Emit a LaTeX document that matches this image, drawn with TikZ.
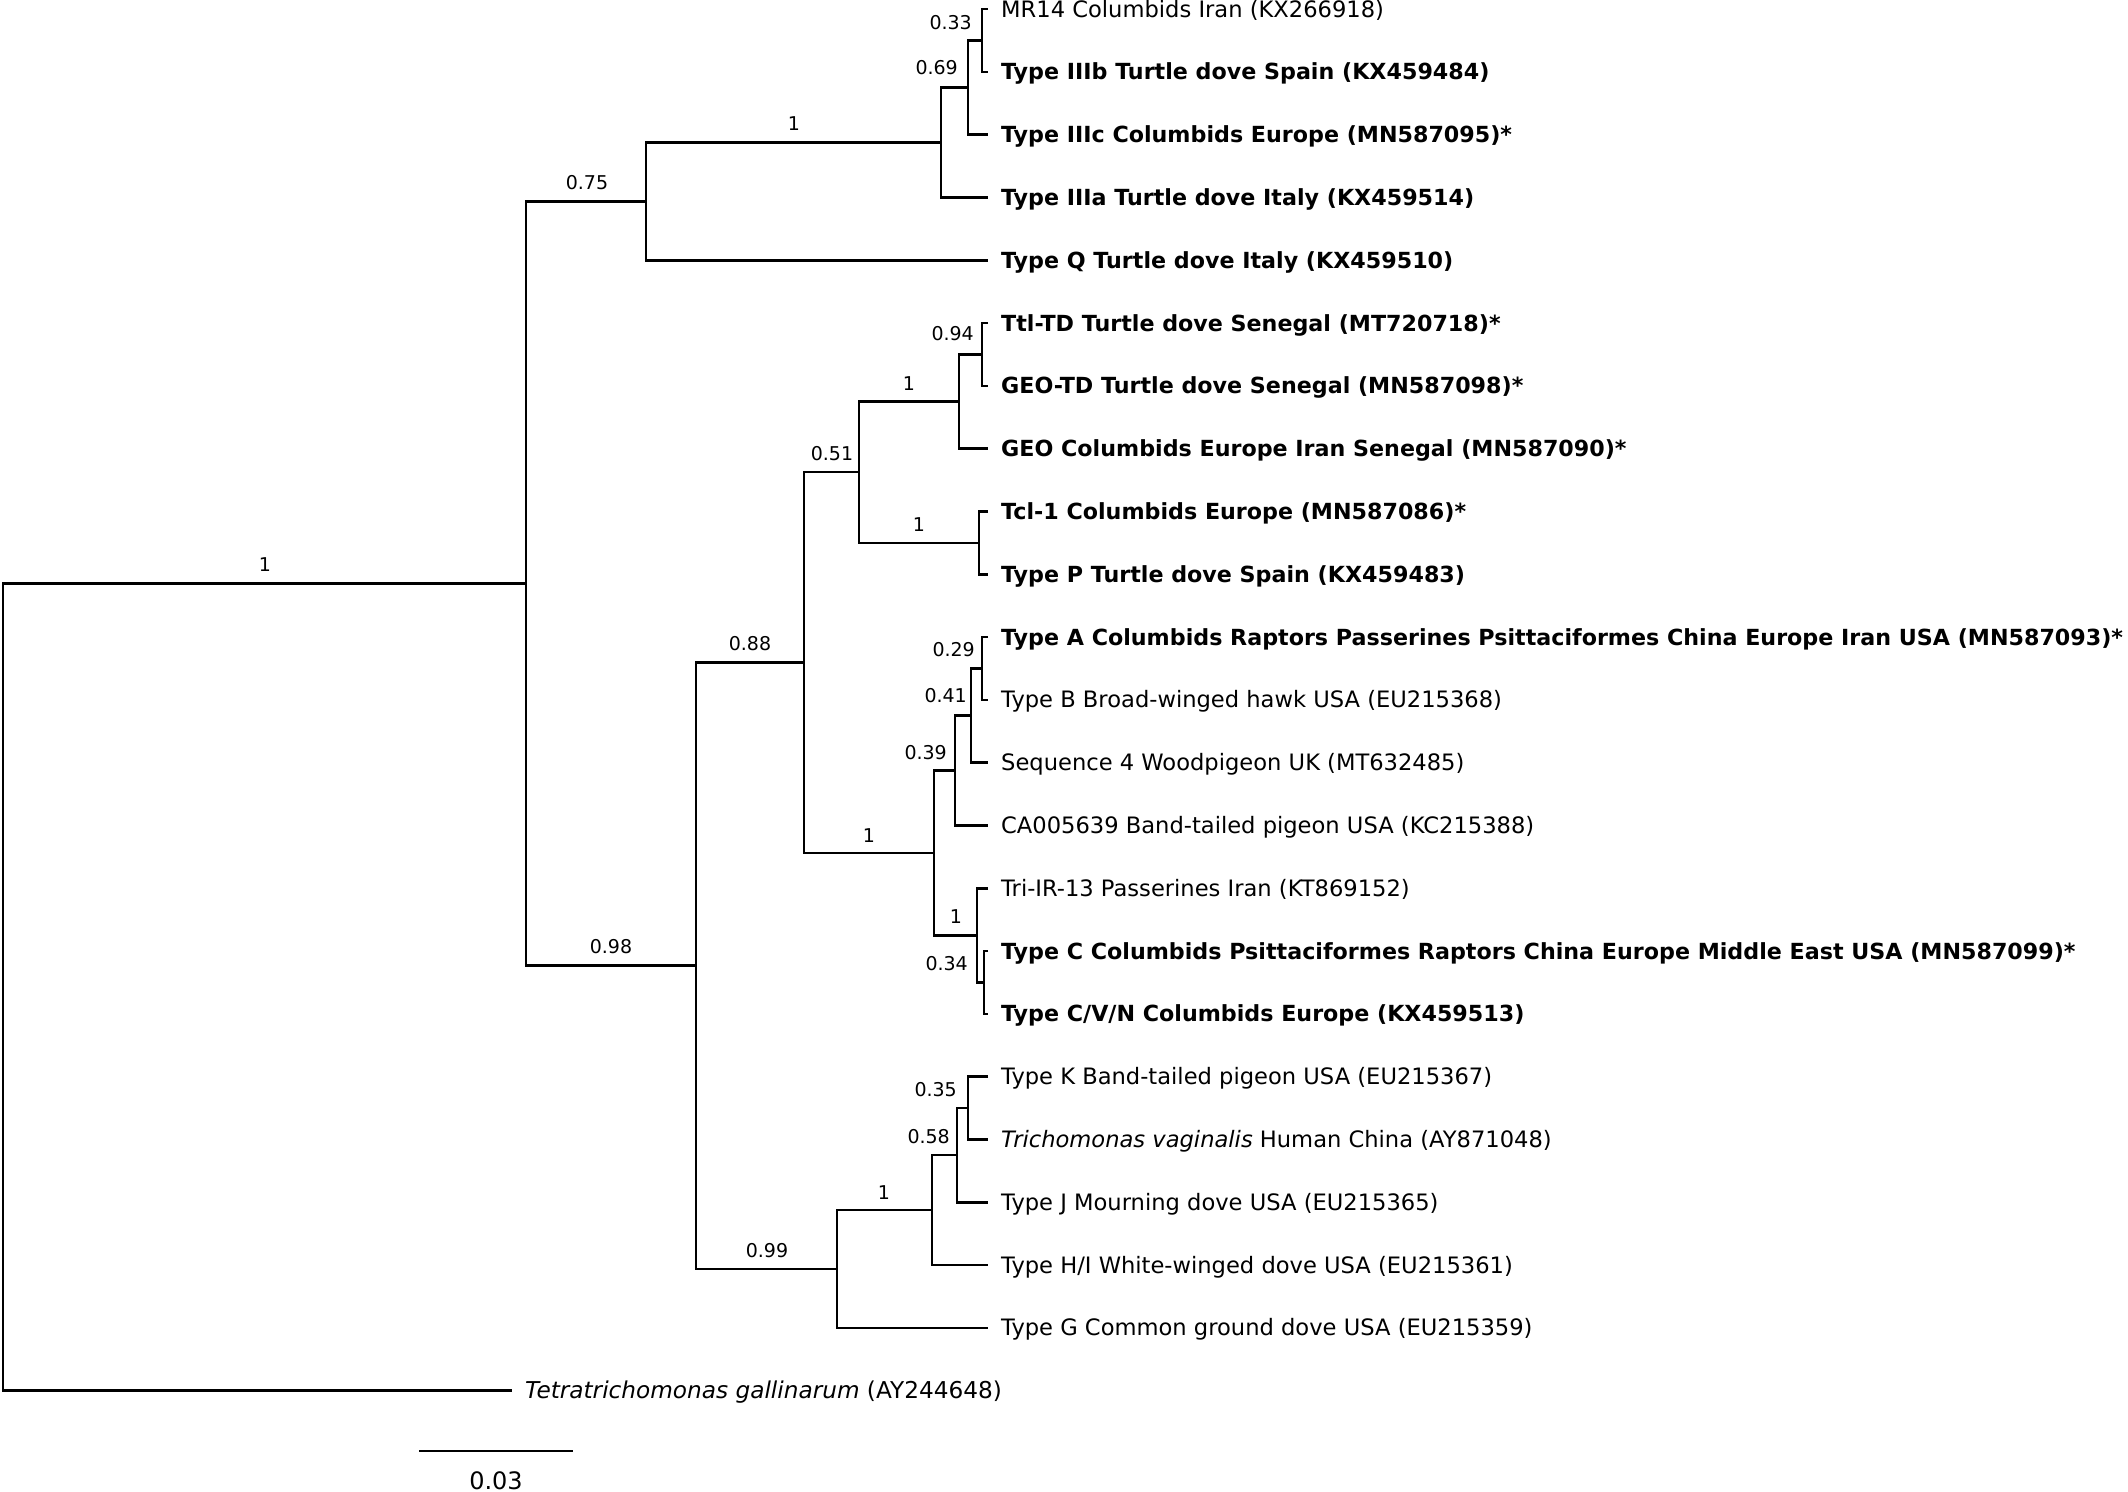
\documentclass[tikz,border=0pt]{standalone}
\usepackage{fontspec}
\setmainfont{DejaVu Sans}
\begin{document}
\begin{tikzpicture}[x=1pt,y=-1pt,
  br/.style={line width=2.6pt},
  leafreg/.style={anchor=base west, inner sep=0pt, xshift=13pt, yshift=-8pt, font=\fontsize{22.6}{26}\selectfont},
  leafbold/.style={leafreg, font=\fontsize{22.2}{26}\selectfont\bfseries},
  supp/.style={inner sep=0pt, font=\fontsize{19}{22}\selectfont},
  suppc/.style={supp, anchor=base},
  suppe/.style={supp, anchor=base east}]
\useasboundingbox (0,0) rectangle (2128,1491);
\fill[white] (0,0) rectangle (2128,1491);
% leaf ends
\coordinate (l1) at (988,9);
\coordinate (l2) at (988,71.8);
\coordinate (l3) at (988,134.6);
\coordinate (l4) at (988,197.4);
\coordinate (l5) at (988,260.2);
\coordinate (l6) at (988,323);
\coordinate (l7) at (988,385.8);
\coordinate (l8) at (988,448.6);
\coordinate (l9) at (988,511.4);
\coordinate (l10) at (988,574.2);
\coordinate (l11) at (988,637);
\coordinate (l12) at (988,699.8);
\coordinate (l13) at (988,762.6);
\coordinate (l14) at (988,825.4);
\coordinate (l15) at (988,888.2);
\coordinate (l16) at (988,951);
\coordinate (l17) at (988,1013.8);
\coordinate (l18) at (988,1076.6);
\coordinate (l19) at (988,1139.4);
\coordinate (l20) at (988,1202.2);
\coordinate (l21) at (988,1265);
\coordinate (l22) at (988,1327.8);
\coordinate (l23) at (512,1390.6);
% internal nodes
\coordinate (root) at (3,987);
\coordinate (nA) at (526,583.5);
\coordinate (nB) at (646,201.3);
\coordinate (nT1) at (941,142.45);
\coordinate (nT2) at (968,87.5);
\coordinate (nT3) at (982,40.4);
\coordinate (nC) at (696,965.7);
\coordinate (nD) at (804,662.5);
\coordinate (nE) at (859,472.15);
\coordinate (nF) at (959,401.5);
\coordinate (nG) at (982,354.4);
\coordinate (nH) at (979,542.8);
\coordinate (nI) at (934,852.9);
\coordinate (nJ) at (955,770.45);
\coordinate (nK) at (971,715.5);
\coordinate (nL) at (982,668.4);
\coordinate (nM) at (977,935.3);
\coordinate (nN) at (984,982.4);
\coordinate (nP) at (837,1268.9);
\coordinate (nQ) at (932,1210.05);
\coordinate (nR) at (957,1155.1);
\coordinate (nS) at (968,1108);
% branches
\draw[br] (l1) -| (nT3) |- (l2);
\draw[br] (nT3) -| (nT2) |- (l3);
\draw[br] (nT2) -| (nT1) |- (l4);
\draw[br] (nT1) -| (nB) |- (l5);
\draw[br] (nB) -| (nA) |- (nC);
\draw[br] (nA) -| (root) |- (l23);
\draw[br] (l6) -| (nG) |- (l7);
\draw[br] (nG) -| (nF) |- (l8);
\draw[br] (l9) -| (nH) |- (l10);
\draw[br] (nF) -| (nE) |- (nH);
\draw[br] (l11) -| (nL) |- (l12);
\draw[br] (nL) -| (nK) |- (l13);
\draw[br] (nK) -| (nJ) |- (l14);
\draw[br] (l16) -| (nN) |- (l17);
\draw[br] (l15) -| (nM) |- (nN);
\draw[br] (nJ) -| (nI) |- (nM);
\draw[br] (nE) -| (nD) |- (nI);
\draw[br] (l18) -| (nS) |- (l19);
\draw[br] (nS) -| (nR) |- (l20);
\draw[br] (nR) -| (nQ) |- (l21);
\draw[br] (nQ) -| (nP) |- (l22);
\draw[br] (nD) -| (nC) |- (nP);
% tip labels
\node[leafreg] (t1) at (l1) {MR14 Columbids Iran (KX266918)};
\node[leafbold] (t2) at (l2) {Type IIIb Turtle dove Spain (KX459484)};
\node[leafbold] (t3) at (l3) {Type IIIc Columbids Europe (MN587095)*};
\node[leafbold] (t4) at (l4) {Type IIIa Turtle dove Italy (KX459514)};
\node[leafbold] (t5) at (l5) {Type Q Turtle dove Italy (KX459510)};
\node[leafbold] (t6) at (l6) {Ttl-TD Turtle dove Senegal (MT720718)*};
\node[leafbold] (t7) at (l7) {GEO-TD Turtle dove Senegal (MN587098)*};
\node[leafbold] (t8) at (l8) {GEO Columbids Europe Iran Senegal (MN587090)*};
\node[leafbold] (t9) at (l9) {Tcl-1 Columbids Europe (MN587086)*};
\node[leafbold] (t10) at (l10) {Type P Turtle dove Spain (KX459483)};
\node[leafbold] (t11) at (l11) {Type A Columbids Raptors Passerines Psittaciformes China Europe Iran USA (MN587093)*};
\node[leafreg] (t12) at (l12) {Type B Broad-winged hawk USA (EU215368)};
\node[leafreg] (t13) at (l13) {Sequence 4 Woodpigeon UK (MT632485)};
\node[leafreg] (t14) at (l14) {CA005639 Band-tailed pigeon USA (KC215388)};
\node[leafreg] (t15) at (l15) {Tri-IR-13 Passerines Iran (KT869152)};
\node[leafbold] (t16) at (l16) {Type C Columbids Psittaciformes Raptors China Europe Middle East USA (MN587099)*};
\node[leafbold] (t17) at (l17) {Type C/V/N Columbids Europe (KX459513)};
\node[leafreg] (t18) at (l18) {Type K Band-tailed pigeon USA (EU215367)};
\node[leafreg] (t19) at (l19) {\textit{Trichomonas vaginalis} Human China (AY871048)};
\node[leafreg] (t20) at (l20) {Type J Mourning dove USA (EU215365)};
\node[leafreg] (t21) at (l21) {Type H/I White-winged dove USA (EU215361)};
\node[leafreg] (t22) at (l22) {Type G Common ground dove USA (EU215359)};
\node[leafreg, font=\fontsize{23.2}{26}\selectfont] (t23) at (l23) {\textit{Tetratrichomonas gallinarum} (AY244648)};
% support values
\node[suppc] (s1) at (265,571) {1};
\node[suppc] (s2) at (587,189) {0.75};
\node[suppc] (s3) at (794,130) {1};
\node[suppe] (s4) at (958,74) {0.69};
\node[suppe] (s5) at (972,29) {0.33};
\node[suppe] (s6) at (974,340) {0.94};
\node[suppc] (s7) at (909,390) {1};
\node[suppc] (s8) at (832,460) {0.51};
\node[suppc] (s9) at (919,531) {1};
\node[suppc] (s10) at (750,650) {0.88};
\node[suppe] (s11) at (975,656) {0.29};
\node[suppe] (s12) at (967,702) {0.41};
\node[suppe] (s13) at (947,759) {0.39};
\node[suppc] (s14) at (869,842) {1};
\node[suppc] (s15) at (956,923) {1};
\node[suppe] (s16) at (968,970) {0.34};
\node[suppc] (s17) at (611,953) {0.98};
\node[suppe] (s18) at (957,1096) {0.35};
\node[suppe] (s19) at (950,1143) {0.58};
\node[suppc] (s20) at (884,1199) {1};
\node[suppc] (s21) at (767,1257) {0.99};
% scale bar
\coordinate (sb1) at (419,1451);
\coordinate (sb2) at (573,1451);
\draw[br] (sb1) -- (sb2);
\node[inner sep=0pt, anchor=base, font=\fontsize{24}{28}\selectfont] (sbl) at (496,1489) {0.03};
\end{tikzpicture}
\end{document}
